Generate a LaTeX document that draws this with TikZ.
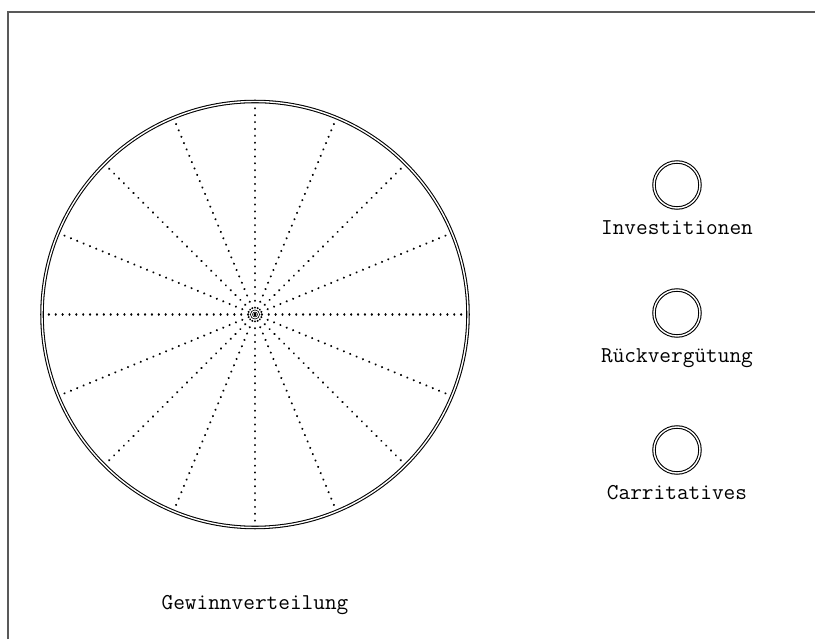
\documentclass[tikz,border=0pt]{standalone}
\usepackage{fontspec}
\usetikzlibrary{positioning}

\tikzset{
  ring/.style={draw, double, line width=0.6pt, double distance=0.8pt},
  potnode/.style={circle, ring, minimum size=0.92cm, inner sep=0pt},
  tag/.style={font=\ttfamily\fontsize{12.9}{15}\selectfont, inner sep=1pt},
  spoke/.style={line width=1.3pt, dash pattern=on 0.01pt off 3.9pt, line cap=round}
}

\begin{document}
\begin{tikzpicture}
\useasboundingbox (0,0) rectangle (16.3,12.78);
\draw[line width=1.1pt, black!65] (0.16,0) -- (0.16,12.54) -- (16.3,12.54);

% wheel
\coordinate (hub) at (5.1,6.49);
\foreach \a in {0,22.5,...,337.5}
  \draw[spoke] (hub) -- ++(\a:4.26);
\draw[ring] (hub) circle (4.26);
\draw[ring, line width=0.45pt, double distance=0.6pt] (hub) circle (0.07);
\node[tag] (wheeltext) at (5.1,0.68) {Gewinnverteilung};

% pots
\node[potnode] (inv) at (13.54,9.08) {};
\node[potnode] (ret) at (13.54,6.52) {};
\node[potnode] (char) at (13.54,3.78) {};
\node[tag, below=0.2 of inv] (invtext) {Investitionen};
\node[tag, below=0.2 of ret] (rettext) {Rückvergütung};
\node[tag, below=0.2 of char] (chartext) {Carritatives};
\end{tikzpicture}
\end{document}
